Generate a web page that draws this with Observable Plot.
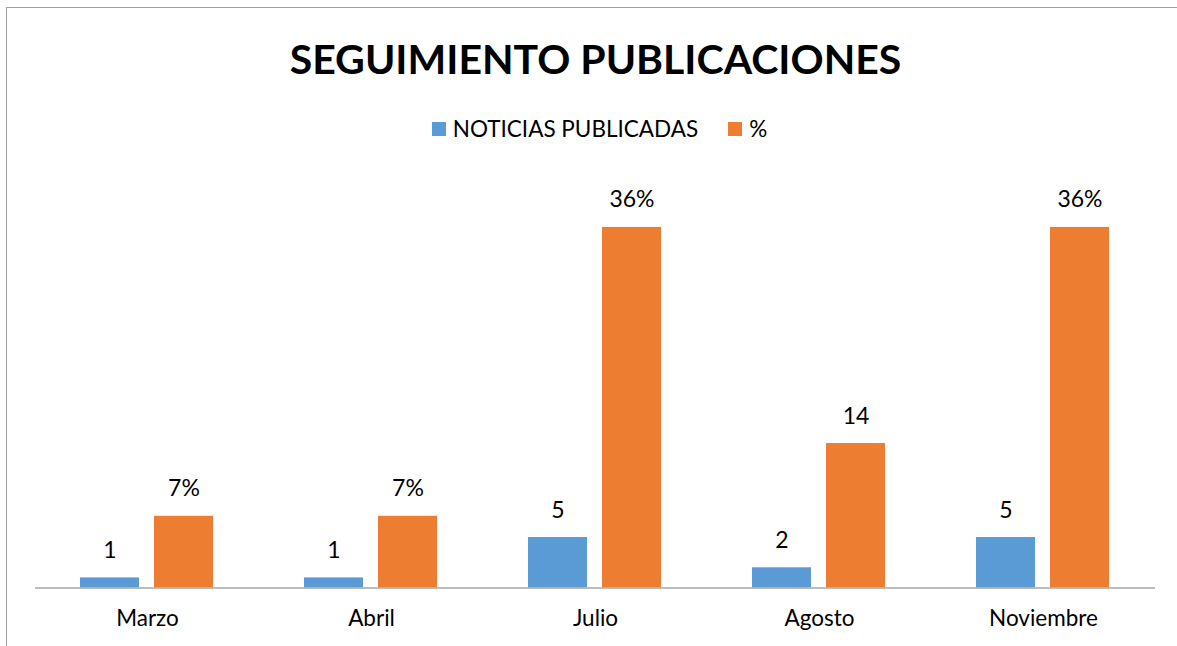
<!DOCTYPE html>
<html>
<head>
<meta charset="utf-8">
<script src="https://cdn.jsdelivr.net/npm/d3@7"></script>
<script src="https://cdn.jsdelivr.net/npm/@observablehq/plot@0.6"></script>
<style>
  html, body { margin: 0; padding: 0; background: #fff; }
  #wrap { position: relative; width: 1177px; height: 646px; overflow: hidden; font-family: Lato, "Open Sans", sans-serif; }
  #frame { position: absolute; left: 6px; top: 7px; right: -10px; bottom: -10px; border-left: 1px solid #a0a0a0; border-top: 1px solid #a0a0a0; }
  #title { position: absolute; left: 7px; width: 1177px; top: 31px; text-align: center; font-weight: bold; font-size: 41px; line-height: 56px; color: #000; }
  #legend { position: absolute; left: 11px; width: 1177px; top: 114px; display: flex; justify-content: center; align-items: center; font-size: 22.5px; line-height: 30px; color: #000; }
  .item { display: flex; align-items: center; }
  .sw { width: 14px; height: 14px; margin-right: 7px; }
  #chart { position: absolute; left: 0; top: 0; }
</style>
</head>
<body>
<div id="wrap">
  <div id="frame"></div>
  <div id="title"></div>
  <div id="legend"></div>
  <div id="chart"></div>
</div>
<script>
const titleText = "SEGUIMIENTO PUBLICACIONES";
const months = ["Marzo", "Abril", "Julio", "Agosto", "Noviembre"];
const seriesNames = ["NOTICIAS PUBLICADAS", "%"];
const seriesColors = ["#5B9BD5", "#ED7D31"];
const noticias = [1, 1, 5, 2, 5];
const noticiasLabels = ["1", "1", "5", "2", "5"];
const porcentaje = [7.1, 7.1, 35.7, 14.3, 35.7];
const porcentajeLabels = ["7%", "7%", "36%", "14", "36%"];

document.getElementById("title").textContent = titleText;
const legend = document.getElementById("legend");
seriesNames.forEach((n, i) => {
  const it = document.createElement("div");
  it.className = "item";
  if (i > 0) it.style.marginLeft = "30px";
  const sw = document.createElement("div");
  sw.className = "sw";
  sw.style.background = seriesColors[i];
  const tx = document.createElement("span");
  tx.textContent = n;
  it.appendChild(sw); it.appendChild(tx);
  legend.appendChild(it);
});

const data = [];
months.forEach((m, i) => {
  data.push({month: m, series: seriesNames[0], value: noticias[i], label: noticiasLabels[i]});
  data.push({month: m, series: seriesNames[1], value: porcentaje[i], label: porcentajeLabels[i]});
});

const chart = Plot.plot({
  width: 1177,
  height: 646,
  marginLeft: 35,
  marginRight: 22,
  marginTop: 183.5,
  marginBottom: 58.5,
  style: {fontFamily: "Lato, 'Open Sans', sans-serif", background: "transparent", overflow: "visible"},
  fx: {domain: months, padding: 0, label: null},
  x: {domain: seriesNames, paddingInner: 0.2, paddingOuter: 0.6, axis: null},
  y: {domain: [0, 40], axis: null},
  color: {domain: seriesNames, range: seriesColors},
  marks: [
    Plot.axisFx({anchor: "bottom", tickSize: 0, tickPadding: 22, fontSize: 22.5, label: null, fill: "#000"}),
    Plot.barY(data, {fx: "month", x: "series", y: "value", fill: "series"}),
    Plot.ruleY([0], {stroke: "#a6a6a6", strokeWidth: 1.3}),
    Plot.text(data, {fx: "month", x: "series", y: "value", text: "label", lineAnchor: "bottom", dy: -20, fontSize: 23, fill: "#000"})
  ]
});
document.getElementById("chart").appendChild(chart);
</script>
</body>
</html>
